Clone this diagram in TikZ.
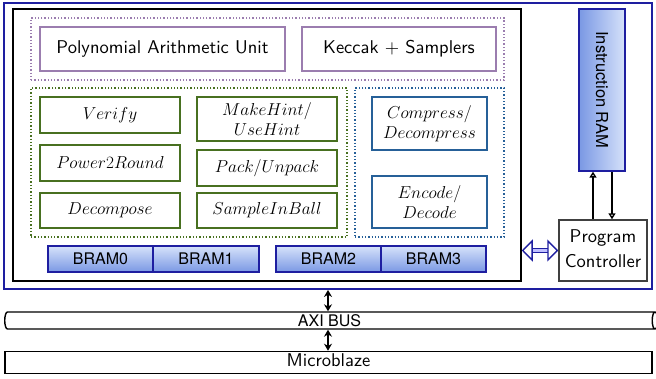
\documentclass[tikz,border=0pt]{standalone}
\usepackage{fontspec}
\usepackage{graphicx}
\newfontfamily\heros{TeX Gyre Heros}
\usetikzlibrary{shapes.geometric}
\usetikzlibrary{arrows.meta}
\pgfdeclarelayer{edgelayer}
\pgfdeclarelayer{nodelayer}
\pgfsetlayers{edgelayer,nodelayer,main}
\definecolor{framenavy}{RGB}{30,30,160}
\definecolor{purpleline}{RGB}{155,125,175}
\definecolor{greenline}{RGB}{72,112,32}
\definecolor{blueline}{RGB}{38,96,152}
\definecolor{bramtop}{RGB}{214,226,250}
\definecolor{brambot}{RGB}{122,152,228}
\newcommand{\sflabel}[1]{\scalebox{1.85}{\fontsize{10}{12}\selectfont\sffamily\begin{tabular}{@{}c@{}}#1\end{tabular}}}
\tikzstyle{system}=[rectangle,draw=framenavy,line width=1.9pt]
\tikzstyle{core}=[rectangle,draw=black,line width=1.5pt]
\tikzstyle{group}=[rectangle,dotted,line width=1.3pt]
\tikzstyle{unit}=[rectangle,fill=white,draw=purpleline,line width=1.5pt]
\tikzstyle{func}=[rectangle,fill=white,draw=greenline,line width=1.6pt,font=\fontsize{17}{20}\selectfont,align=center,minimum width=140pt]
\tikzstyle{codec}=[rectangle,fill=white,draw=blueline,line width=1.6pt,font=\fontsize{17}{20}\selectfont,align=center,minimum width=115pt]
\tikzstyle{bram}=[rectangle,draw=framenavy,line width=1.3pt,top color=bramtop,bottom color=brambot,font=\heros\fontsize{16}{18}\selectfont,minimum height=26pt]
\tikzstyle{plain}=[rectangle,fill=white,draw=black!75,line width=1.4pt,font=\heros\fontsize{16}{19}\selectfont]
\tikzstyle{transition}=[-{Triangle[open,length=6pt,width=7pt]},draw=black,line width=1.4pt]
\tikzstyle{busarrow}=[{Stealth[length=7pt,width=8pt]}-{Stealth[length=7pt,width=8pt]},draw=black,line width=1.5pt]
\tikzstyle{link}=[{Triangle[open,length=11pt,width=22pt]}-{Triangle[open,length=11pt,width=22pt]},draw=framenavy,double=blue!25,double distance=3pt,line width=1.4pt]

\begin{document}
\begin{tikzpicture}[x=1pt,y=-1pt]
	\useasboundingbox (0,0) rectangle (656,379);
	\begin{pgfonlayer}{nodelayer}
		\node [style=system, minimum width=648pt, minimum height=286pt] (0) at (328, 146) {};
		\node [style=core, minimum width=508pt, minimum height=272pt] (1) at (267, 145) {};
		\node [style=group, draw=purpleline, minimum width=473pt, minimum height=62pt] (2) at (267.5, 49) {};
		\node [style=unit, minimum width=245pt, minimum height=44pt] (3) at (162.5, 49) {\sflabel{Polynomial Arithmetic Unit}};
		\node [style=unit, minimum width=194pt, minimum height=44pt] (4) at (399, 49) {\sflabel{Keccak $+$ Samplers}};
		\node [style=group, draw=greenline, minimum width=316pt, minimum height=149pt] (5) at (189, 162.5) {};
		\node [style=func, minimum height=36pt] (6) at (110, 115) {$Verify$};
		\node [style=func, minimum height=44pt, inner sep=1pt] (7) at (267, 119) {$MakeHint/$\\$UseHint$};
		\node [style=func, minimum height=36pt] (8) at (110, 163) {$Power2Round$};
		\node [style=func, minimum height=36pt] (9) at (267, 168) {$Pack/Unpack$};
		\node [style=func, minimum height=35pt] (10) at (110, 210.5) {$Decompose$};
		\node [style=func, minimum height=35pt] (11) at (267, 210.5) {$SampleInBall$};
		\node [style=group, draw=blueline, minimum width=149pt, minimum height=149pt] (12) at (429.5, 162.5) {};
		\node [style=codec, minimum height=53pt] (13) at (429.5, 123.5) {$Compress/$\\$Decompress$};
		\node [style=codec, minimum height=52pt] (14) at (429.5, 202) {$Encode/$\\$Decode$};
		\node [style=bram, minimum width=105pt] (15) at (100.5, 259) {BRAM0};
		\node [style=bram, minimum width=106pt] (16) at (206, 259) {BRAM1};
		\node [style=bram, minimum width=105pt] (17) at (328.5, 259) {BRAM2};
		\node [style=bram, minimum width=105pt] (18) at (433.5, 259) {BRAM3};
		\node [style=bram, left color=brambot, right color=bramtop, rotate=-90, font=\heros\fontsize{16.5}{18}\selectfont, minimum width=162pt, minimum height=46pt] (19) at (602, 90) {Instruction RAM};
		\node [style=plain, inner sep=0pt, minimum width=88pt, minimum height=61pt] (20) at (603, 250.5) {\sflabel{Program\\[1.5pt]Controller}};
		\node [style=plain, shape=cylinder, shape aspect=0.45, draw=black, minimum height=653pt, minimum width=17pt, inner sep=0pt] (21) at (329.5, 320.5) {AXI BUS};
		\node [style=plain, draw=black, minimum width=647pt, minimum height=19pt, inner sep=0pt] (22) at (328.5, 362.5) {\sflabel{Microblaze}};
	\end{pgfonlayer}
	\begin{pgfonlayer}{edgelayer}
		\draw [style=transition] ([xshift=-10pt]20.north) to ([xshift=-9pt]19.east);
		\draw [style=transition] ([xshift=10pt]19.east) to ([xshift=9pt]20.north);
		\draw [style=link] (1.east |- 20.west) to (20.west);
		\draw [style=busarrow] (0.south) to (0.south |- 21.north);
		\draw [style=busarrow] (0.south |- 21.south) to (0.south |- 22.north);
	\end{pgfonlayer}
\end{tikzpicture}
\end{document}
